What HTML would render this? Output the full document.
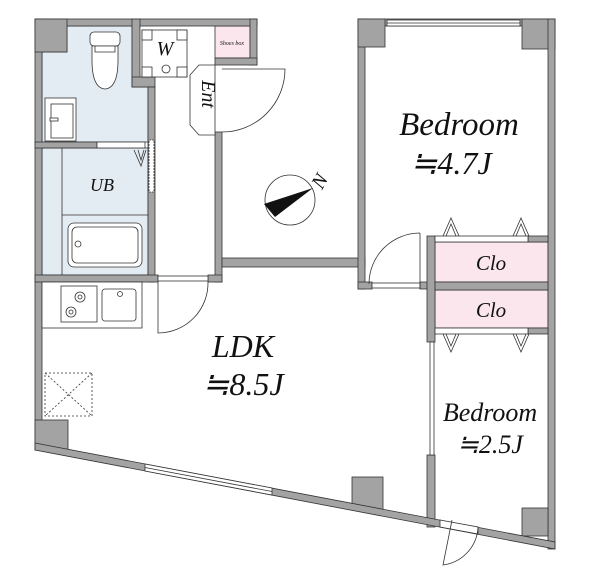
<!DOCTYPE html>
<html><head><meta charset="utf-8"><style>
html,body{margin:0;padding:0;background:#fff;width:607px;height:583px;overflow:hidden}
svg{display:block}
text{font-family:"Liberation Serif",serif;font-style:italic;fill:#111}
</style></head><body>
<svg width="607" height="583" viewBox="0 0 607 583" xmlns="http://www.w3.org/2000/svg">
<g stroke="#333" stroke-width="0.8">
<path d="M42,52 H67 V26 H132 V87 H148 V142 H42 Z" fill="#e4ecf3"/>
<rect x="42" y="148" width="106" height="127" fill="#e4ecf3"/>
<line x1="62" y1="148" x2="62" y2="275"/>
<line x1="62" y1="215" x2="148" y2="215"/>
<rect x="215" y="26" width="35" height="32" fill="#fbe6ee"/>
<rect x="435" y="242" width="113" height="40" fill="#fbe6ee"/>
<rect x="435" y="290" width="113" height="38" fill="#fbe6ee"/>
</g>
<g fill="#a3a3a3" stroke="#333" stroke-width="0.8">
<rect x="35" y="19" width="7" height="431"/>
<rect x="35" y="19" width="222" height="7"/>
<rect x="35" y="19" width="32" height="33"/>
<rect x="132" y="19" width="8" height="68"/>
<rect x="132" y="77" width="23" height="10"/>
<rect x="148" y="87" width="7" height="195"/>
<rect x="250" y="19" width="7" height="46"/>
<rect x="215" y="58" width="42" height="7"/>
<rect x="215" y="132" width="7" height="150"/>
<rect x="35" y="142" width="62" height="6"/>
<rect x="35" y="275" width="123" height="7"/>
<rect x="208" y="275" width="14" height="7"/>
<rect x="222" y="258" width="143" height="9"/>
<rect x="358" y="19" width="7" height="270"/>
<rect x="358" y="19" width="197" height="7"/>
<rect x="358" y="19" width="27" height="28"/>
<rect x="522" y="19" width="33" height="30"/>
<rect x="548" y="19" width="7" height="530"/>
<rect x="358" y="282" width="14" height="7"/>
<rect x="420" y="282" width="15" height="7"/>
<rect x="427" y="236" width="8" height="106"/>
<rect x="427" y="455" width="8" height="72"/>
<rect x="528" y="236" width="20" height="6"/>
<rect x="435" y="282" width="113" height="8"/>
<rect x="528" y="328" width="20" height="6"/>
<rect x="35" y="420" width="33" height="30"/>
<rect x="352" y="477" width="31" height="33"/>
<rect x="522" y="508" width="26" height="28"/>
<polygon points="35,443 555,542 555,549 35,450"/>
</g>
<g fill="#fff" stroke="#333" stroke-width="0.8">
<rect x="97" y="142" width="48" height="6"/>
<rect x="387" y="20" width="133" height="6"/>
<line x1="387" y1="23" x2="520" y2="23"/>
<polygon points="145,464 272,488 272,495 145,471"/>
<line x1="145" y1="467.5" x2="272" y2="491.5"/>
<polygon points="440,520 478,527 478,534 440,527"/>
<rect x="435" y="236" width="93" height="6"/>
<rect x="435" y="328" width="93" height="6"/>
<rect x="430" y="342" width="4" height="113"/>
<rect x="149" y="140" width="5" height="52" stroke-dasharray="2,1"/>
<rect x="158" y="276" width="50" height="5"/>
<rect x="372" y="283" width="48" height="5"/>
<rect x="142" y="30" width="45" height="47"/>
<rect x="142" y="30" width="10" height="10"/><rect x="177" y="30" width="10" height="10"/>
<rect x="142" y="67" width="10" height="10"/><rect x="177" y="67" width="10" height="10"/>
<circle cx="166" cy="69" r="4"/>
<rect x="90" y="32" width="30" height="14" rx="4"/>
<path d="M92,46 H118 V60 Q118,88 105,89 Q92,88 92,60 Z"/>
<path d="M95,46 V52 H115 V46" fill="none"/>
<rect x="45" y="98" width="31" height="43"/>
<rect x="51" y="104" width="22" height="34"/>
<rect x="50" y="118" width="8" height="3"/>
<rect x="68" y="223" width="74" height="44" rx="6"/>
<rect x="72" y="227" width="66" height="36" rx="5"/>
<circle cx="78" cy="244" r="3"/>
<rect x="42" y="282" width="100" height="46"/>
<rect x="61" y="286" width="36" height="36"/>
<circle cx="80" cy="297" r="5"/><circle cx="71" cy="312" r="5"/>
<rect x="102" y="289" width="34" height="32" rx="3"/>
<circle cx="120" cy="294" r="2.5"/>
<polygon points="199,65 215,65 215,135 199,135 190,125 190,75"/>
</g>
<g fill="none" stroke="#333" stroke-width="0.8">
<path d="M222,69 H285 A63,63 0 0 1 222,132"/>
<path d="M158,282 V333 A50,50 0 0 0 208,282"/>
<path d="M420,233 V289 M420,233 A51,51 0 0 0 369,284"/>
<path d="M452,520 L443,565 A40,40 0 0 0 478,527"/>
<path d="M134,150 L141,166 L146,150 M138,150 L141,160 L144,150"/>
<path d="M443,236 L451,218 L459,236 M446,236 L451,224 L456,236"/>
<path d="M513,236 L521,218 L529,236 M516,236 L521,224 L526,236"/>
<path d="M443,334 L451,352 L459,334 M446,334 L451,346 L456,334"/>
<path d="M513,334 L521,352 L529,334 M516,334 L521,346 L526,334"/>
<rect x="45" y="373" width="47" height="43" stroke-dasharray="2,2"/>
<path d="M45,373 L92,416 M92,373 L45,416" stroke-dasharray="2,2"/>
<circle cx="290" cy="200" r="25"/>
<circle cx="80" cy="297" r="2"/><circle cx="71" cy="312" r="2"/>
</g>
<polygon points="264,204 313,188 275,217" fill="#111"/>
<text x="321" y="187" font-size="20" transform="rotate(-60 321 182)" text-anchor="middle">N</text>
<text x="165" y="55" font-size="20" text-anchor="middle">W</text>
<text x="232" y="45" font-size="6" text-anchor="middle">Shoes box</text>
<text x="196" y="100" font-size="20" text-anchor="middle" transform="rotate(90 202 100)">Ent</text>
<text x="102" y="191" font-size="18" text-anchor="middle">UB</text>
<text x="459" y="135" font-size="33" text-anchor="middle">Bedroom</text>
<text x="451" y="174" font-size="32" text-anchor="middle">≒4.7J</text>
<text x="491" y="270" font-size="21" text-anchor="middle">Clo</text>
<text x="491" y="317" font-size="21" text-anchor="middle">Clo</text>
<text x="243" y="357" font-size="32" text-anchor="middle">LDK</text>
<text x="243" y="395" font-size="32" text-anchor="middle">≒8.5J</text>
<text x="490" y="421" font-size="26" text-anchor="middle">Bedroom</text>
<text x="490" y="453" font-size="26" text-anchor="middle">≒2.5J</text>
</svg>
</body></html>
